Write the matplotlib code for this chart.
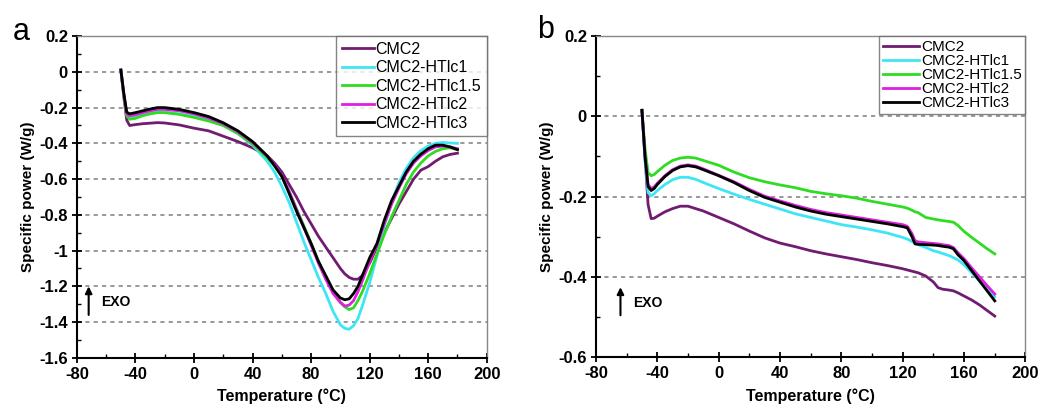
import matplotlib
matplotlib.use("Agg")
import matplotlib.pyplot as plt
from matplotlib.ticker import MultipleLocator, FuncFormatter

plt.rcParams["font.family"] = ["Liberation Sans", "DejaVu Sans"]

# Proben / Farben
labels = ["CMC2", "CMC2-HTlc1", "CMC2-HTlc1.5", "CMC2-HTlc2", "CMC2-HTlc3"]
colors = ["#701c70", "#3ee6f5", "#2fdc22", "#e01ee0", "#000000"]

# --- Panel a: Temperaturraster und Kurven (W/g) ---
temp_a = [-50, -48, -46, -44, -40, -35, -30, -25, -20, -10, 0, 10, 20, 30, 40,
          50, 55, 60, 65, 70, 75, 80, 85, 90, 95, 100, 103, 106, 109, 112, 115,
          120, 125, 130, 135, 140, 145, 150, 155, 160, 165, 170, 175, 180]
a_cmc2 = [0.01, -0.14, -0.27, -0.30, -0.295, -0.29, -0.287, -0.284, -0.286, -0.297,
          -0.315, -0.33, -0.36, -0.39, -0.425, -0.47, -0.51, -0.56, -0.63, -0.70,
          -0.78, -0.85, -0.92, -0.98, -1.04, -1.10, -1.13, -1.15, -1.16, -1.16,
          -1.14, -1.07, -0.98, -0.90, -0.82, -0.74, -0.67, -0.60, -0.55, -0.53,
          -0.50, -0.475, -0.462, -0.455]
a_htlc1 = [0.01, -0.13, -0.24, -0.255, -0.25, -0.24, -0.232, -0.225, -0.225, -0.235,
           -0.25, -0.27, -0.30, -0.345, -0.41, -0.50, -0.56, -0.64, -0.73, -0.84,
           -0.95, -1.05, -1.15, -1.24, -1.34, -1.415, -1.435, -1.44, -1.42, -1.38,
           -1.31, -1.18, -1.03, -0.86, -0.73, -0.62, -0.54, -0.48, -0.44, -0.415,
           -0.40, -0.395, -0.398, -0.40]
a_htlc15 = [0.01, -0.13, -0.245, -0.265, -0.26, -0.245, -0.235, -0.228, -0.228, -0.238,
            -0.255, -0.275, -0.30, -0.345, -0.405, -0.48, -0.525, -0.585, -0.67, -0.765,
            -0.86, -0.96, -1.06, -1.15, -1.23, -1.29, -1.315, -1.33, -1.32, -1.28,
            -1.23, -1.13, -1.02, -0.91, -0.81, -0.72, -0.63, -0.56, -0.51, -0.47,
            -0.445, -0.43, -0.425, -0.435]
a_htlc2 = [0.01, -0.12, -0.235, -0.245, -0.24, -0.228, -0.218, -0.21, -0.21, -0.218,
           -0.235, -0.258, -0.29, -0.335, -0.395, -0.47, -0.52, -0.58, -0.67, -0.77,
           -0.87, -0.97, -1.07, -1.16, -1.24, -1.29, -1.31, -1.305, -1.28, -1.23,
           -1.17, -1.06, -0.97, -0.85, -0.74, -0.65, -0.57, -0.51, -0.47, -0.44,
           -0.42, -0.415, -0.42, -0.43]
a_htlc3 = [0.01, -0.12, -0.225, -0.235, -0.228, -0.218, -0.208, -0.20, -0.20, -0.21,
           -0.228, -0.25, -0.285, -0.33, -0.39, -0.47, -0.525, -0.585, -0.68, -0.78,
           -0.87, -0.96, -1.06, -1.14, -1.22, -1.265, -1.275, -1.27, -1.24, -1.20,
           -1.14, -1.04, -0.96, -0.83, -0.72, -0.64, -0.56, -0.50, -0.46, -0.43,
           -0.41, -0.41, -0.42, -0.435]

# --- Panel b ---
temp_b = [-50, -48, -46, -44, -42, -40, -35, -30, -25, -20, -15, -10, 0, 10, 20, 30,
          40, 50, 60, 70, 80, 90, 100, 110, 120, 123, 126, 128, 130, 135, 140, 143,
          146, 150, 153, 156, 160, 165, 170, 175, 180]
b_cmc2 = [0.015, -0.10, -0.22, -0.255, -0.254, -0.249, -0.238, -0.23, -0.224, -0.224,
          -0.23, -0.236, -0.252, -0.268, -0.286, -0.303, -0.316, -0.325, -0.335, -0.343,
          -0.35, -0.357, -0.365, -0.372, -0.38, -0.383, -0.386, -0.388, -0.39, -0.398,
          -0.413, -0.427, -0.431, -0.433, -0.435, -0.44, -0.448, -0.458, -0.47, -0.484,
          -0.498]
b_htlc1 = [0.015, -0.11, -0.19, -0.198, -0.193, -0.185, -0.17, -0.158, -0.152, -0.152,
           -0.157, -0.165, -0.18, -0.194, -0.207, -0.219, -0.231, -0.243, -0.252, -0.261,
           -0.27, -0.276, -0.283, -0.291, -0.302, -0.306, -0.312, -0.316, -0.32, -0.327,
           -0.335, -0.338, -0.342, -0.347, -0.352, -0.358, -0.37, -0.39, -0.41, -0.43,
           -0.45]
b_htlc15 = [0.015, -0.08, -0.14, -0.148, -0.145, -0.138, -0.122, -0.11, -0.104, -0.102,
            -0.104, -0.11, -0.122, -0.139, -0.153, -0.163, -0.171, -0.178, -0.187, -0.193,
            -0.198, -0.204, -0.212, -0.219, -0.226, -0.229, -0.234, -0.238, -0.24, -0.252,
            -0.256, -0.258, -0.26, -0.262, -0.264, -0.272, -0.287, -0.302, -0.316, -0.33,
            -0.343]
b_htlc2 = [0.015, -0.10, -0.17, -0.18, -0.176, -0.167, -0.148, -0.133, -0.124, -0.121,
           -0.124, -0.131, -0.147, -0.163, -0.182, -0.199, -0.211, -0.222, -0.232, -0.24,
           -0.246, -0.252, -0.258, -0.264, -0.27, -0.274, -0.292, -0.31, -0.313, -0.315,
           -0.317, -0.318, -0.32, -0.322, -0.327, -0.34, -0.355, -0.378, -0.40, -0.422,
           -0.443]
b_htlc3 = [0.015, -0.10, -0.175, -0.185, -0.18, -0.17, -0.15, -0.135, -0.126, -0.123,
           -0.126, -0.133, -0.148, -0.165, -0.185, -0.202, -0.214, -0.226, -0.236, -0.244,
           -0.25, -0.256, -0.262, -0.268, -0.275, -0.278, -0.30, -0.318, -0.319, -0.32,
           -0.321, -0.322, -0.324, -0.326, -0.33, -0.345, -0.36, -0.385, -0.41, -0.435,
           -0.46]

# Pfeil "EXO": (x, y_fuss, y_spitze)
exo_a = (-72, -1.36, -1.20)
exo_b = (-64, -0.496, -0.426)


def fmt(v, pos):
    s = f"{v:.1f}".rstrip("0").rstrip(".")
    return "0" if s in ("-0", "0") else s


def style_axis(ax, ymin, ymax, ymaj, grid_vals):
    ax.set_xlim(-80, 200)
    ax.set_ylim(ymin, ymax)
    ax.xaxis.set_major_locator(MultipleLocator(40))
    ax.xaxis.set_minor_locator(MultipleLocator(20))
    ax.yaxis.set_major_locator(MultipleLocator(ymaj))
    ax.yaxis.set_minor_locator(MultipleLocator(ymaj / 2))
    ax.yaxis.set_major_formatter(FuncFormatter(fmt))
    ax.xaxis.set_major_formatter(FuncFormatter(lambda v, p: f"{v:.0f}"))
    ax.tick_params(which="major", direction="inout", length=7, width=1.3,
                   labelsize=12, pad=3)
    ax.tick_params(which="minor", direction="in", length=3, width=1.0)
    for lab in ax.get_xticklabels() + ax.get_yticklabels():
        lab.set_fontweight("bold")
    ax.spines["left"].set_linewidth(1.5)
    ax.spines["bottom"].set_linewidth(1.5)
    for s in ("top", "right"):
        ax.spines[s].set_color("#888888")
        ax.spines[s].set_linewidth(1.0)
    for g in grid_vals:
        ax.axhline(g, color="#888888", lw=1.2, ls=(0, (2.5, 2.5)), zorder=0)
    ax.set_xlabel("Temperature (°C)", fontsize=11.5, fontweight="bold", labelpad=5)
    ax.set_ylabel("Specific power (W/g)", fontsize=11, fontweight="bold", labelpad=3)


fig = plt.figure(figsize=(10.4, 4.2), dpi=100)
ax1 = fig.add_axes([0.074, 0.148, 0.394, 0.766])
ax2 = fig.add_axes([0.573, 0.150, 0.413, 0.764])

for ys, lab, c in zip([a_cmc2, a_htlc1, a_htlc15, a_htlc2, a_htlc3], labels, colors):
    ax1.plot(temp_a, ys, color=c, lw=2.0, label=lab)
for ys, lab, c in zip([b_cmc2, b_htlc1, b_htlc15, b_htlc2, b_htlc3], labels, colors):
    ax2.plot(temp_b, ys, color=c, lw=2.0, label=lab)

style_axis(ax1, -1.6, 0.2, 0.2, [0, -0.2, -0.4, -0.6, -0.8, -1.0, -1.2, -1.4])
style_axis(ax2, -0.6, 0.2, 0.2, [0, -0.2, -0.4])

leg1 = ax1.legend(loc="upper right", fontsize=11.5, frameon=True, fancybox=False,
                  borderaxespad=0, handlelength=2.0, handletextpad=0.1,
                  labelspacing=0.22, borderpad=0.35)
leg2 = ax2.legend(loc="upper right", fontsize=11, frameon=True, fancybox=False,
                  borderaxespad=0, handlelength=2.4, handletextpad=0.1,
                  labelspacing=0.0, borderpad=0.25)
for leg in (leg1, leg2):
    leg.get_frame().set_edgecolor("#666666")
    leg.get_frame().set_linewidth(1.0)

for ax, (x, y0, y1) in ((ax1, exo_a), (ax2, exo_b)):
    ax.annotate("", xy=(x, y1), xytext=(x, y0),
                arrowprops=dict(arrowstyle="-|>", color="black", lw=1.5,
                                mutation_scale=10, shrinkA=0, shrinkB=0))
    ax.text(x + 8.5, (y0 + y1) / 2 - (y1 - y0) * 0.05, "EXO",
            fontsize=10, fontweight="bold", va="center", ha="left")

fig.text(0.012, 0.96, "a", fontsize=22, va="top", ha="left")
fig.text(0.516, 0.965, "b", fontsize=22, va="top", ha="left")

fig.savefig("out.png", dpi=100)
